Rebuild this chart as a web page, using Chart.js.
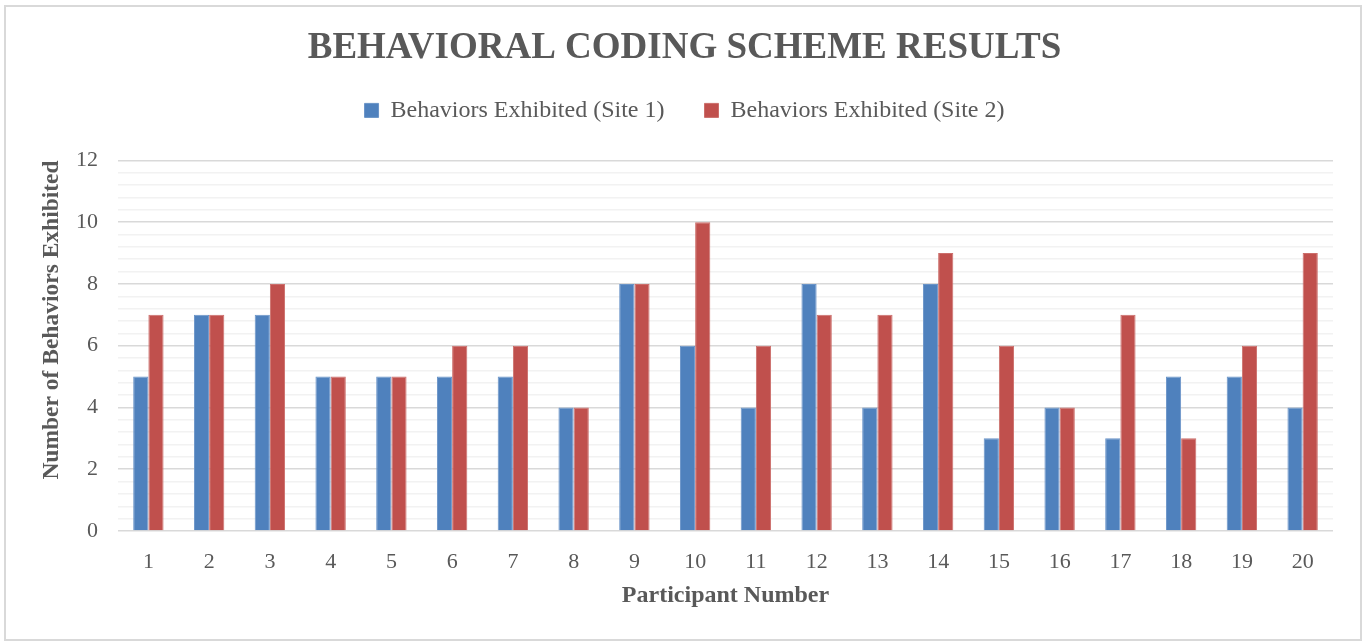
<!DOCTYPE html>
<html>
<head>
<meta charset="utf-8">
<script src="https://cdn.jsdelivr.net/npm/chart.js@4"></script>
<style>
  html, body { margin: 0; padding: 0; background: #fff; }
  #frame {
    position: absolute; left: 4px; top: 5px;
    width: 1354px; height: 632px;
    border: 2px solid #d9d9d9;
  }
  #chart { position: absolute; left: -6px; top: -7px; }
</style>
</head>
<body>
<div id="frame"><canvas id="chart" width="1362" height="641"></canvas></div>
<script>
const participants = ['1','2','3','4','5','6','7','8','9','10','11','12','13','14','15','16','17','18','19','20'];
const site1 = [5, 7, 7, 5, 5, 5, 5, 4, 8, 6, 4, 8, 4, 8, 3, 4, 3, 5, 5, 4];
const site2 = [7, 7, 8, 5, 5, 6, 6, 4, 8, 10, 6, 7, 7, 9, 6, 4, 7, 3, 6, 9];
const seriesNames = ['Behaviors Exhibited (Site 1)', 'Behaviors Exhibited (Site 2)'];

const serif = "'Liberation Serif', 'Times New Roman', serif";
const textGray = '#595959';

// major gridlines every 2, minor every 0.4
const isMajor = (v) => Math.abs(v / 2 - Math.round(v / 2)) < 1e-6;

new Chart(document.getElementById('chart').getContext('2d'), {
    type: 'bar',
    data: {
        labels: participants,
        datasets: [{
            label: seriesNames[0],
            data: site1,
            backgroundColor: '#4f81bd',
            borderColor: '#6a94c8',
            borderWidth: 1,
            categoryPercentage: 0.5,
            barPercentage: 1,
        }, {
            label: seriesNames[1],
            data: site2,
            backgroundColor: '#c0504d',
            borderColor: '#cc6e6b',
            borderWidth: 1,
            categoryPercentage: 0.5,
            barPercentage: 1,
        }]
    },
    options: {
        responsive: false,
        animation: false,
        layout: {
            padding: { left: 36, right: 29, top: 20, bottom: 30 }
        },
        plugins: {
            title: {
                display: true,
                text: 'BEHAVIORAL CODING SCHEME RESULTS',
                color: textGray,
                font: { family: serif, size: 37, weight: 'bold' },
                padding: { top: 6, bottom: -12 }
            },
            legend: {
                labels: {
                    color: textGray,
                    font: { family: serif, size: 24 },
                    boxWidth: 14,
                    boxHeight: 14,
                    padding: 40,
                }
            },
            tooltip: { enabled: false }
        },
        scales: {
            // empty spacer between legend and plot
            xTop: {
                type: 'category',
                position: 'top',
                grid: { display: false, drawTicks: false },
                border: { display: false },
                ticks: { display: false },
                afterFit: (scale) => { scale.height = 28; }
            },
            x: {
                grid: { display: false, drawTicks: false },
                border: { display: false },
                ticks: {
                    color: textGray,
                    font: { family: serif, size: 22 },
                    padding: 18,
                },
                title: {
                    display: true,
                    text: 'Participant Number',
                    color: textGray,
                    font: { family: serif, size: 24, weight: 'bold' },
                    padding: { top: 0, bottom: 1 }
                },
                afterFit: (scale) => { scale.height = 80; }
            },
            y: {
                min: 0,
                max: 12,
                border: { display: false },
                grid: {
                    color: (ctx) => isMajor(ctx.tick.value) ? '#d9d9d9' : '#f2f2f2',
                    lineWidth: 1.5,
                    drawTicks: false,
                },
                ticks: {
                    stepSize: 0.4,
                    autoSkip: false,
                    color: textGray,
                    font: { family: serif, size: 22 },
                    padding: 20,
                    callback: (v) => isMajor(v) ? String(Math.round(v)) : '',
                },
                title: {
                    display: true,
                    text: 'Number of Behaviors Exhibited',
                    align: 'end',
                    color: textGray,
                    font: { family: serif, size: 23.5, weight: 'bold' },
                    padding: { top: 2, bottom: 0 }
                },
                afterFit: (scale) => { scale.width = 82; }
            }
        }
    }
});
</script>
</body>
</html>
